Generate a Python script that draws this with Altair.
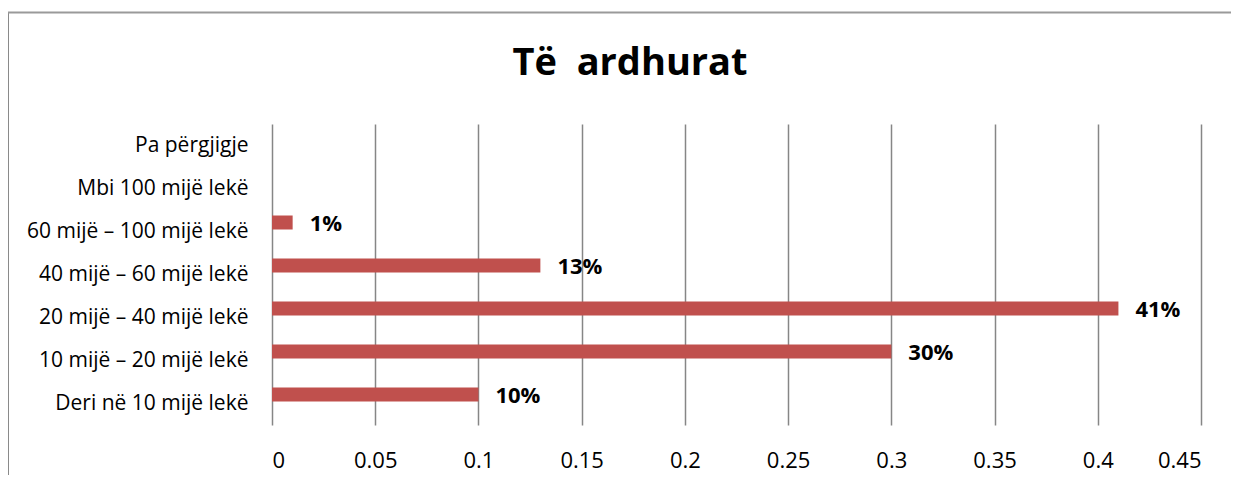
import altair as alt
import pandas as pd

categories = [
    "Pa përgjigje\u00a0",
    "Mbi 100 mijë lekë",
    "60 mijë – 100 mijë lekë",
    "40 mijë – 60 mijë lekë",
    "20 mijë – 40 mijë lekë\u00a0",
    "10 mijë – 20 mijë lekë\u00a0",
    "Deri në 10 mijë lekë",
]
values = [0.0, 0.0, 0.01, 0.13, 0.41, 0.30, 0.10]
labels = ["", "", "1%", "13%", "41%", "30%", "10%"]
x_ticks = [0, 0.05, 0.1, 0.15, 0.2, 0.25, 0.3, 0.35, 0.4, 0.45]
chart_title = "Të\u00a0 ardhurat"

df = pd.DataFrame({"cat": categories, "val": values, "lab": labels})

FONT = "Open Sans"
W, H = 929, 301

y_enc = alt.Y("cat:N", sort=categories, title=None,
              scale=alt.Scale(paddingInner=0, paddingOuter=0),
              axis=alt.Axis(labelFontSize=21, labelFont=FONT, labelColor="#000000",
                            labelPadding=24, ticks=False, domain=False, labelLimit=400))
x_enc = alt.X("val:Q", title=None,
              scale=alt.Scale(domain=[0, 0.45], nice=False, zero=True),
              axis=alt.Axis(values=x_ticks, format="~g", grid=True, gridColor="#868686",
                            gridWidth=1.5, ticks=False, domain=False, labelFontSize=22,
                            labelFont=FONT, labelColor="#000000", labelPadding=25))

bars = alt.Chart(df).mark_bar(color="#C0504D", size=14, yOffset=-9).encode(y=y_enc, x=x_enc)

text = alt.Chart(df).mark_text(align="left", baseline="middle", dx=17, yOffset=-8,
                               font=FONT, fontSize=22, fontWeight="bold", color="#000000").encode(
    y=alt.Y("cat:N", sort=categories), x=alt.X("val:Q"), text="lab:N")

one = alt.Data(values=[{"t": chart_title}])
title_mark = alt.Chart(one).mark_text(align="center", baseline="alphabetic", font=FONT,
                                      fontSize=38, fontWeight="bold", color="#000000").encode(
    x=alt.value(358), y=alt.value(-49), text="t:N")
border_v = alt.Chart(one).mark_rule(color="#8a8a8a", strokeWidth=2).encode(
    x=alt.value(-264), y=alt.value(-111.5), y2=alt.value(700))
border_h = alt.Chart(one).mark_rule(color="#9a9a9a", strokeWidth=2).encode(
    x=alt.value(-264), x2=alt.value(1100), y=alt.value(-111.5))

chart = alt.layer(bars, text, title_mark, border_v, border_h).properties(
    width=W, height=H,
    padding={"left": 264, "top": 116, "right": 30, "bottom": 50},
    autosize=alt.AutoSizeParams(type="none"),
).configure_view(stroke=None)

chart.save("out.html", embed_options={"renderer": "svg", "actions": False})
